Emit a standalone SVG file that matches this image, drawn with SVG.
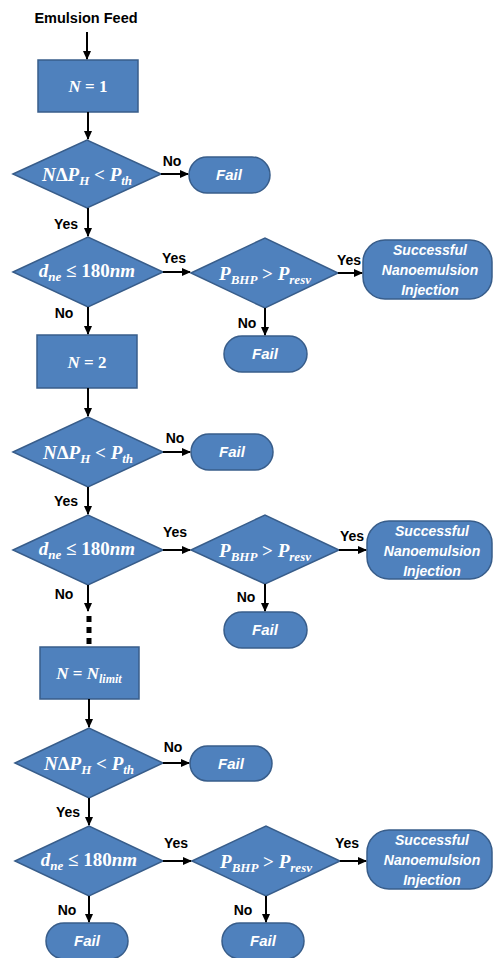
<svg xmlns="http://www.w3.org/2000/svg" width="493" height="958" viewBox="0 0 493 958">
<defs>
<marker id="ah" markerWidth="10" markerHeight="10" refX="8" refY="5" orient="auto" markerUnits="userSpaceOnUse">
<path d="M0,1 L9,5 L0,9 z" fill="#000"/>
</marker>
<style>
.shape{fill:#4F81BD;stroke:#385D8A;stroke-width:1.5}
.math{font-family:"Liberation Serif","DejaVu Serif",serif;font-style:italic;font-weight:bold;fill:#fff;text-anchor:middle}
.up{font-style:normal}
.sub{font-size:13px}
.pill{font-family:"Liberation Sans",Arial,sans-serif;font-style:italic;font-weight:bold;font-size:15px;fill:#fff;text-anchor:middle}
.succ{font-size:14px}
.lbl{font-family:"Liberation Sans",Arial,sans-serif;font-weight:bold;font-size:14px;fill:#000;text-anchor:middle}
.con line{stroke:#000;stroke-width:2;marker-end:url(#ah)}
</style>
</defs>
<rect width="493" height="958" fill="#fff"/>

<g id="feed"><text class="lbl" x="86" y="23" style="font-size:14.5px">Emulsion Feed</text></g>

<!-- Block 1 -->
<g id="n1"><rect class="shape" x="38" y="60" width="100" height="52"/>
<text class="math" x="88" y="92" style="font-size:17px">N<tspan class="up"> = 1</tspan></text></g>
<g id="d1"><polygon class="shape" points="13,174 87,140 161,174 87,208"/>
<text class="math" x="87" y="181" style="font-size:19px">N<tspan class="up">Δ</tspan>P<tspan class="sub" dy="4">H</tspan><tspan class="up" dy="-4"> &lt; </tspan>P<tspan class="sub" dy="4">th</tspan></text></g>
<g id="fail1"><rect class="shape" x="189" y="157" width="81" height="36" rx="18"/><text class="pill" x="229" y="180">Fail</text></g>
<g id="d2"><polygon class="shape" points="13,272 88,237 163,272 88,307"/>
<text class="math" x="87" y="277" style="font-size:19px">d<tspan class="sub" dy="4">ne</tspan><tspan class="up" dy="-4"> ≤ 180</tspan>nm</text></g>
<g id="p1"><polygon class="shape" points="191,273 265,238 338,273 265,308"/>
<text class="math" x="265" y="280" style="font-size:19px">P<tspan class="sub" dy="4">BHP</tspan><tspan class="up" dy="-4"> &gt; </tspan>P<tspan class="sub" dy="4">resv</tspan></text></g>
<g id="succ1"><rect class="shape" x="363" y="240" width="129" height="59" rx="22"/>
<text class="pill succ" x="430" y="255">Successful</text><text class="pill succ" x="430" y="275">Nanoemulsion</text><text class="pill succ" x="430" y="295">Injection</text></g>
<g id="fail2"><rect class="shape" x="224" y="336" width="83" height="36" rx="18"/><text class="pill" x="265" y="359">Fail</text></g>

<!-- Block 2 -->
<g id="n2"><rect class="shape" x="37" y="335" width="100" height="53"/>
<text class="math" x="87" y="368" style="font-size:17px">N<tspan class="up"> = 2</tspan></text></g>
<g id="d3"><polygon class="shape" points="13,452 88,417 163,452 88,487"/>
<text class="math" x="88" y="459" style="font-size:19px">N<tspan class="up">Δ</tspan>P<tspan class="sub" dy="4">H</tspan><tspan class="up" dy="-4"> &lt; </tspan>P<tspan class="sub" dy="4">th</tspan></text></g>
<g id="fail3"><rect class="shape" x="191" y="434" width="82" height="36" rx="18"/><text class="pill" x="232" y="457">Fail</text></g>
<g id="d4"><polygon class="shape" points="13,550 88,515 163,550 88,585"/>
<text class="math" x="87" y="555" style="font-size:19px">d<tspan class="sub" dy="4">ne</tspan><tspan class="up" dy="-4"> ≤ 180</tspan>nm</text></g>
<g id="p2"><polygon class="shape" points="191,550 265,515 339,550 265,584"/>
<text class="math" x="265" y="557" style="font-size:19px">P<tspan class="sub" dy="4">BHP</tspan><tspan class="up" dy="-4"> &gt; </tspan>P<tspan class="sub" dy="4">resv</tspan></text></g>
<g id="succ2"><rect class="shape" x="367" y="521" width="125" height="58" rx="22"/>
<text class="pill succ" x="432" y="536">Successful</text><text class="pill succ" x="432" y="556">Nanoemulsion</text><text class="pill succ" x="432" y="576">Injection</text></g>
<g id="fail4"><rect class="shape" x="224" y="612" width="83" height="36" rx="18"/><text class="pill" x="265" y="635">Fail</text></g>

<!-- Block 3 -->
<g id="n3"><rect class="shape" x="40" y="647" width="99" height="52"/>
<text class="math" x="89" y="679" style="font-size:17px">N<tspan class="up"> = </tspan>N<tspan class="sub" dy="4" style="font-size:12px">limit</tspan></text></g>
<g id="d5"><polygon class="shape" points="15,763 89,728 163,763 89,798"/>
<text class="math" x="89" y="770" style="font-size:19px">N<tspan class="up">Δ</tspan>P<tspan class="sub" dy="4">H</tspan><tspan class="up" dy="-4"> &lt; </tspan>P<tspan class="sub" dy="4">th</tspan></text></g>
<g id="fail5"><rect class="shape" x="190" y="746" width="82" height="35" rx="17.5"/><text class="pill" x="231" y="769">Fail</text></g>
<g id="d6"><polygon class="shape" points="15,861 89,826 163,861 89,896"/>
<text class="math" x="89" y="866" style="font-size:19px">d<tspan class="sub" dy="4">ne</tspan><tspan class="up" dy="-4"> ≤ 180</tspan>nm</text></g>
<g id="p3"><polygon class="shape" points="192,861 266,826 340,861 266,896"/>
<text class="math" x="266" y="868" style="font-size:19px">P<tspan class="sub" dy="4">BHP</tspan><tspan class="up" dy="-4"> &gt; </tspan>P<tspan class="sub" dy="4">resv</tspan></text></g>
<g id="succ3"><rect class="shape" x="367" y="830" width="125" height="59" rx="22"/>
<text class="pill succ" x="432" y="845">Successful</text><text class="pill succ" x="432" y="865">Nanoemulsion</text><text class="pill succ" x="432" y="885">Injection</text></g>
<g id="fail6"><rect class="shape" x="46" y="923" width="82" height="36" rx="18"/><text class="pill" x="87" y="946">Fail</text></g>
<g id="fail7"><rect class="shape" x="222" y="923" width="82" height="36" rx="18"/><text class="pill" x="263" y="946">Fail</text></g>

<!-- Connectors -->
<g id="connectors" class="con">
<line x1="87" y1="32" x2="87" y2="59"/>
<line x1="88" y1="112" x2="88" y2="139"/>
<line x1="161" y1="174" x2="188" y2="174"/>
<line x1="88" y1="208" x2="88" y2="236"/>
<line x1="163" y1="272" x2="190" y2="272"/>
<line x1="338" y1="273" x2="362" y2="273"/>
<line x1="265" y1="308" x2="265" y2="335"/>
<line x1="88" y1="307" x2="88" y2="334"/>

<line x1="88" y1="388" x2="88" y2="416"/>
<line x1="163" y1="452" x2="190" y2="452"/>
<line x1="88" y1="487" x2="88" y2="514"/>
<line x1="163" y1="550" x2="190" y2="550"/>
<line x1="339" y1="550" x2="366" y2="550"/>
<line x1="265" y1="584" x2="265" y2="611"/>
<line x1="88" y1="585" x2="88" y2="611"/>
<line x1="89" y1="616" x2="89" y2="644" style="stroke-width:5;stroke-dasharray:6 5;marker-end:none"/>

<line x1="89" y1="699" x2="89" y2="727"/>
<line x1="163" y1="763" x2="189" y2="763"/>
<line x1="89" y1="798" x2="89" y2="825"/>
<line x1="163" y1="861" x2="191" y2="861"/>
<line x1="340" y1="861" x2="366" y2="861"/>
<line x1="89" y1="896" x2="89" y2="922"/>
<line x1="266" y1="896" x2="266" y2="922"/>
</g>

<!-- Labels -->
<g id="labels">
<text class="lbl" x="172" y="166">No</text>
<text class="lbl" x="66" y="229">Yes</text>
<text class="lbl" x="174" y="263">Yes</text>
<text class="lbl" x="349" y="265">Yes</text>
<text class="lbl" x="247" y="328">No</text>
<text class="lbl" x="64" y="318">No</text>

<text class="lbl" x="175" y="443">No</text>
<text class="lbl" x="66" y="506">Yes</text>
<text class="lbl" x="175" y="537">Yes</text>
<text class="lbl" x="352" y="541">Yes</text>
<text class="lbl" x="246" y="602">No</text>
<text class="lbl" x="64" y="599">No</text>

<text class="lbl" x="173" y="752">No</text>
<text class="lbl" x="68" y="817">Yes</text>
<text class="lbl" x="176" y="848">Yes</text>
<text class="lbl" x="347" y="848">Yes</text>
<text class="lbl" x="67" y="915">No</text>
<text class="lbl" x="243" y="915">No</text>
</g>
</svg>
